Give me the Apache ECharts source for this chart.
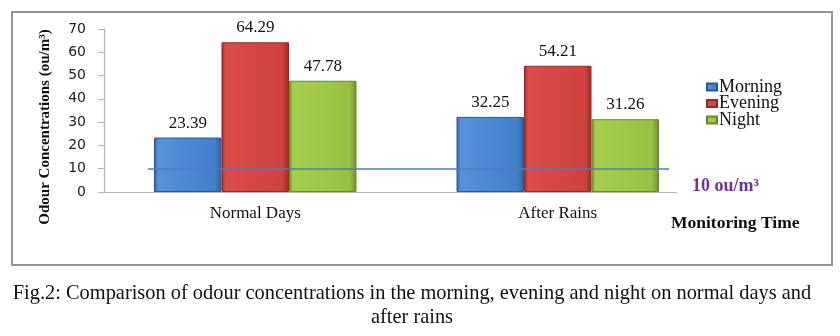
<!DOCTYPE html>
<html>
<head>
<meta charset="utf-8">
<script src="https://cdn.jsdelivr.net/npm/echarts@6/dist/echarts.min.js"></script>
<style>
  html, body { margin: 0; padding: 0; background: #ffffff; }
  #chart { width: 840px; height: 336px; }
</style>
</head>
<body>
<div id="chart"></div>
<script>
// Odour concentrations (ou/m³) by time of day
const categories = ['Normal Days', 'After Rains'];
const seriesNames = ['Morning', 'Evening', 'Night'];
const morning = [23.39, 32.25];
const evening = [64.29, 54.21];
const night = [47.78, 31.26];
const yTicks = { min: 0, max: 70, interval: 10 };
const threshold = 10;
const thresholdLabel = '10 ou/m³';
const xTitle = 'Monitoring Time';
const yTitle = 'Odour Concentrations (ou/m³)';
const caption1 = 'Fig.2: Comparison of odour concentrations in the morning, evening and night on normal days and';
const caption2 = 'after rains';

const SERIF = '"Liberation Serif", "Times New Roman", serif';
const SANS = '"DejaVu Sans", Verdana, sans-serif';

function bevel(edge, light, body) {
  return new echarts.graphic.LinearGradient(0, 0, 1, 0, [
    { offset: 0, color: edge },
    { offset: 0.06, color: light },
    { offset: 0.9, color: body },
    { offset: 1, color: edge }
  ]);
}

const palette = [
  { fill: bevel('#2f5f9e', '#5592da', '#4280cc'), border: '#2b5894' },
  { fill: bevel('#9c2a28', '#dc4c48', '#cf423e'), border: '#962826' },
  { fill: bevel('#6d8d2b', '#a6cf4e', '#98c042'), border: '#6a8a2a' }
];
const values = [morning, evening, night];

const series = seriesNames.map((name, i) => ({
  name: name,
  type: 'bar',
  data: values[i],
  barWidth: 67.5,
  barGap: '0%',
  itemStyle: {
    color: palette[i].fill,
    borderColor: palette[i].border,
    borderWidth: 1
  },
  label: {
    show: true,
    position: 'top',
    distance: 6,
    fontFamily: SERIF,
    fontSize: 17,
    color: '#111',
    formatter: p => p.value.toFixed(2)
  }
}));

// Category baseline and threshold line, drawn through the value axis
series[0].markLine = {
  silent: true,
  symbol: 'none',
  label: { show: false },
  animation: false,
  data: [
    [{ yAxis: 0, x: 104, lineStyle: { color: '#b4b4b4', width: 1.2, type: 'solid' } },
     { yAxis: 0, x: 677 }],
    [{ yAxis: threshold, x: 148, lineStyle: { color: '#4a7ebb', width: 1.6, type: 'solid' } },
     { yAxis: threshold, x: 669 }]
  ]
};

const chart = echarts.init(document.getElementById('chart'), null, { renderer: 'canvas' });
chart.setOption({
  animation: false,
  backgroundColor: '#ffffff',
  grid: { left: 104, top: 29, width: 605, height: 163, containLabel: false },
  legend: {
    orient: 'vertical',
    left: 701,
    top: 73,
    itemWidth: 10,
    itemHeight: 7,
    itemGap: -1.5,
    icon: 'rect',
    data: seriesNames,
    textStyle: { fontFamily: SERIF, fontSize: 18, color: '#111', padding: [0, 0, 0, -3] }
  },
  xAxis: {
    type: 'category',
    data: categories,
    axisLine: { show: false },
    axisTick: { show: false },
    axisLabel: { margin: 13, fontFamily: SERIF, fontSize: 17, color: '#111' }
  },
  yAxis: {
    type: 'value',
    min: yTicks.min,
    max: yTicks.max,
    interval: yTicks.interval,
    splitLine: { show: false },
    axisLine: { show: true, lineStyle: { color: '#b4b4b4', width: 1.2 } },
    axisTick: { show: true, inside: false, length: 6, lineStyle: { color: '#b4b4b4' } },
    axisLabel: { margin: 18, fontFamily: SANS, fontSize: 14, color: '#222' }
  },
  series: series,
  graphic: [
    {
      type: 'rect', silent: true, z: -1,
      shape: { x: 12, y: 12, width: 820, height: 253 },
      style: { fill: 'none', stroke: '#959595', lineWidth: 2 }
    },
    {
      type: 'text', x: 45, y: 127, rotation: Math.PI / 2,
      style: { text: yTitle, font: 'bold 15px ' + SERIF, fill: '#111', align: 'center', verticalAlign: 'middle' }
    },
    {
      type: 'text', x: 692, y: 186,
      style: { text: thresholdLabel, font: 'bold 18px ' + SERIF, fill: '#7030a0', align: 'left', verticalAlign: 'middle' }
    },
    {
      type: 'text', x: 671, y: 223,
      style: { text: xTitle, font: 'bold 17.5px ' + SERIF, fill: '#111', align: 'left', verticalAlign: 'middle' }
    },
    {
      type: 'text', x: 412, y: 294,
      style: { text: caption1, font: '20.4px ' + SERIF, fill: '#111', align: 'center', verticalAlign: 'middle' }
    },
    {
      type: 'text', x: 412, y: 318,
      style: { text: caption2, font: '20.4px ' + SERIF, fill: '#111', align: 'center', verticalAlign: 'middle' }
    }
  ]
});
</script>
</body>
</html>
